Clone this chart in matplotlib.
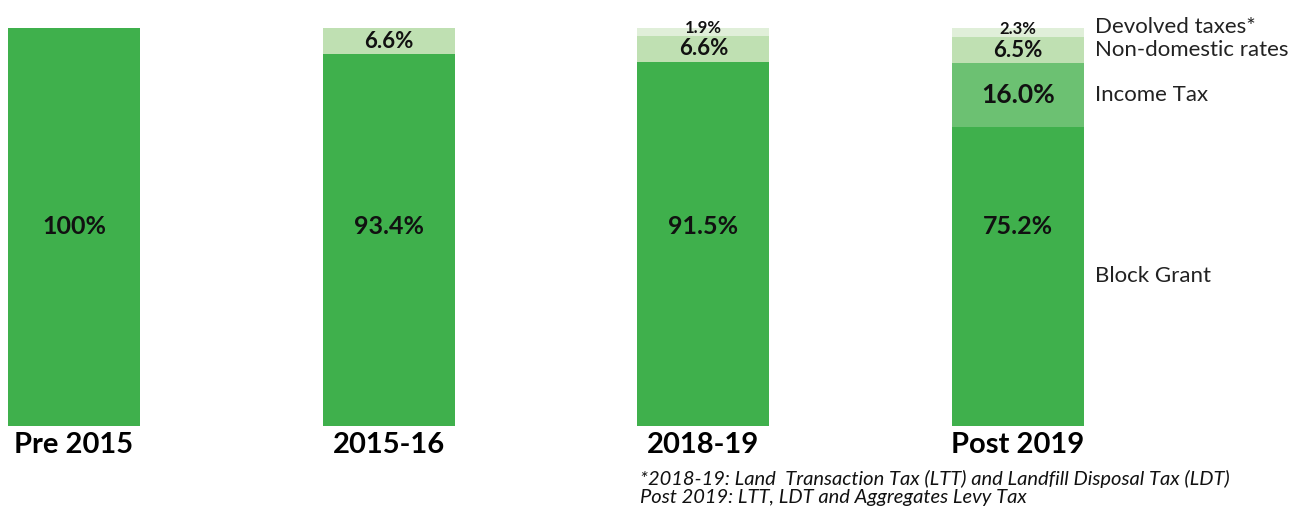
import numpy as np
import matplotlib.pyplot as plt

plt.rcParams['font.family'] = ['Lato', 'DejaVu Sans']

categories = ['Pre 2015', '2015-16', '2018-19', 'Post 2019']
block_grant = [100, 93.4, 91.5, 75.2]
income_tax = [0, 0, 0, 16.0]
ndr = [0, 6.6, 6.6, 6.5]
devolved = [0, 0, 1.9, 2.3]
series_names = ['Block Grant', 'Income Tax', 'Non-domestic rates', 'Devolved taxes*']
colors = ['#3fb04c', '#6cc172', '#bfe0b2', '#e0efd9']
label_sizes = [18, 19, 16, 12]
footnote = ['*2018-19: Land  Transaction Tax (LTT) and Landfill Disposal Tax (LDT)',
            'Post 2019: LTT, LDT and Aggregates Levy Tax']

fig = plt.figure(figsize=(12.95, 5.07), dpi=100)
ax = fig.add_axes([0, 0.1598, 1, 0.785])

x = np.arange(len(categories))
series = [block_grant, income_tax, ndr, devolved]
bottom = np.zeros(len(categories))
for i, (vals, col, fs) in enumerate(zip(series, colors, label_sizes)):
    vals = np.array(vals)
    ax.bar(x, vals, 0.42, bottom=bottom, color=col, linewidth=0)
    for xi, v, b in zip(x, vals, bottom):
        if v <= 0:
            continue
        txt = '100%' if v == 100 else '{:.1f}%'.format(v)
        # block grant labels sit at the middle of the whole bar
        if i == 0:
            yy = 50
        else:
            yy = b + v / 2 + (1.0 if v < 3 else 0)
        ax.text(xi, yy, txt, ha='center', va='center', fontsize=fs,
                fontweight='bold', color='#111111')
    bottom += vals

# series names to the right of the last bar
last = [s[-1] for s in series]
cum = np.cumsum([0] + last[:-1])
for name, v, b in zip(series_names, last, cum):
    yy = b + v / 2 + (1.4 if v < 3 else 0)
    ax.text(x[-1] + 0.245, yy, name, ha='left', va='center', fontsize=16,
            color='#222222')

ax.set_xlim(-0.235, 3.88)
ax.set_ylim(0, 100)
ax.set_xticks(x)
ax.set_xticklabels(categories, fontsize=21, fontweight='bold')
ax.tick_params(axis='x', length=0, pad=4)
ax.set_yticks([])
for s in ax.spines.values():
    s.set_visible(False)

fig.text(640 / 1295, 1 - 479 / 507, footnote[0], fontsize=14.5, style='italic',
         va='center', ha='left', color='#111111')
fig.text(640 / 1295, 1 - 497 / 507, footnote[1], fontsize=14.5, style='italic',
         va='center', ha='left', color='#111111')

fig.savefig('out.png', dpi=100)
